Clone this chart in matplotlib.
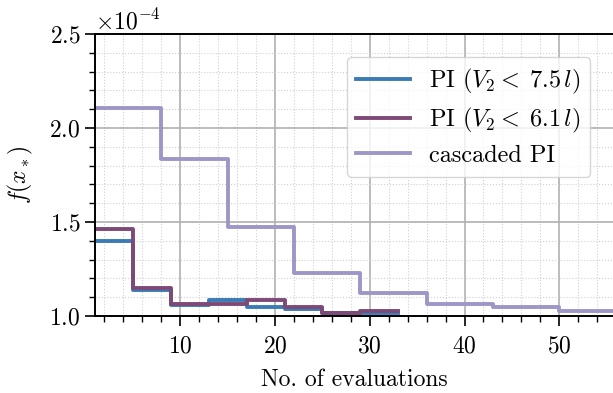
import matplotlib
matplotlib.use("Agg")
import matplotlib.pyplot as plt
from matplotlib.ticker import MultipleLocator

plt.rcParams["font.family"] = "cmr10"
plt.rcParams["mathtext.fontset"] = "cm"
plt.rcParams["axes.formatter.use_mathtext"] = True
plt.rcParams["font.size"] = 17

# data (steps-post, last value repeated to close the final step)
evals_pi = [1, 5, 9, 13, 17, 21, 25, 29, 33]
f_pi75 = [1.40, 1.138, 1.058, 1.083, 1.046, 1.035, 1.016, 1.014, 1.014]
f_pi61 = [1.463, 1.149, 1.062, 1.065, 1.087, 1.05, 1.018, 1.028, 1.028]

evals_casc = [1, 8, 15, 22, 29, 36, 43, 50, 57]
f_casc = [2.105, 1.833, 1.472, 1.23, 1.12, 1.062, 1.05, 1.027, 1.027]

labels = [r"PI $(V_2 <\;7.5\,l)$", r"PI $(V_2 <\;6.1\,l)$", "cascaded PI"]
colors = ["#3a7bb6", "#7d4a77", "#9d97c8"]

fig = plt.figure(figsize=(6.13, 3.93), dpi=100)
ax = fig.add_axes([0.155, 0.196, 0.845, 0.7176])

ax.plot(evals_pi, [v * 1e-4 for v in f_pi75], drawstyle="steps-post",
        color=colors[0], lw=2.8, label=labels[0])
ax.plot(evals_pi, [v * 1e-4 for v in f_pi61], drawstyle="steps-post",
        color=colors[1], lw=2.8, label=labels[1])
ax.plot(evals_casc, [v * 1e-4 for v in f_casc], drawstyle="steps-post",
        color=colors[2], lw=2.8, label=labels[2])

ax.set_xlim(1, 55.67)
ax.set_ylim(1.0e-4, 2.5e-4)
ax.ticklabel_format(style="sci", axis="y", scilimits=(0, 0), useMathText=True)
ax.xaxis.set_major_locator(MultipleLocator(10))
ax.xaxis.set_minor_locator(MultipleLocator(2))
ax.yaxis.set_major_locator(MultipleLocator(0.5e-4))
ax.yaxis.set_minor_locator(MultipleLocator(0.1e-4))

ax.grid(which="major", color="#b0b0b0", lw=1.2, ls="-")
ax.grid(which="minor", color="#d0d0d0", lw=0.8, ls=":")
ax.set_axisbelow(True)

ax.spines["right"].set_visible(False)
for s in ["left", "bottom", "top"]:
    ax.spines[s].set_linewidth(1.4)
ax.tick_params(which="major", direction="out", length=7, width=1.2, labelsize=17)
ax.tick_params(axis="x", which="major", pad=7)
ax.tick_params(which="minor", direction="out", length=4, width=1.0)

ax.set_xlabel("No. of evaluations", fontsize=17, labelpad=8)
ax.set_ylabel(r"$f(x_*)$", fontsize=17, labelpad=10)
ax.yaxis.get_offset_text().set_fontsize(17)

ax.legend(loc="upper right", fontsize=17.5, framealpha=0.8, edgecolor="#cccccc",
          handlelength=2.2, labelspacing=0.4, bbox_to_anchor=(0.98, 0.96))

fig.savefig("out.png", dpi=100)
